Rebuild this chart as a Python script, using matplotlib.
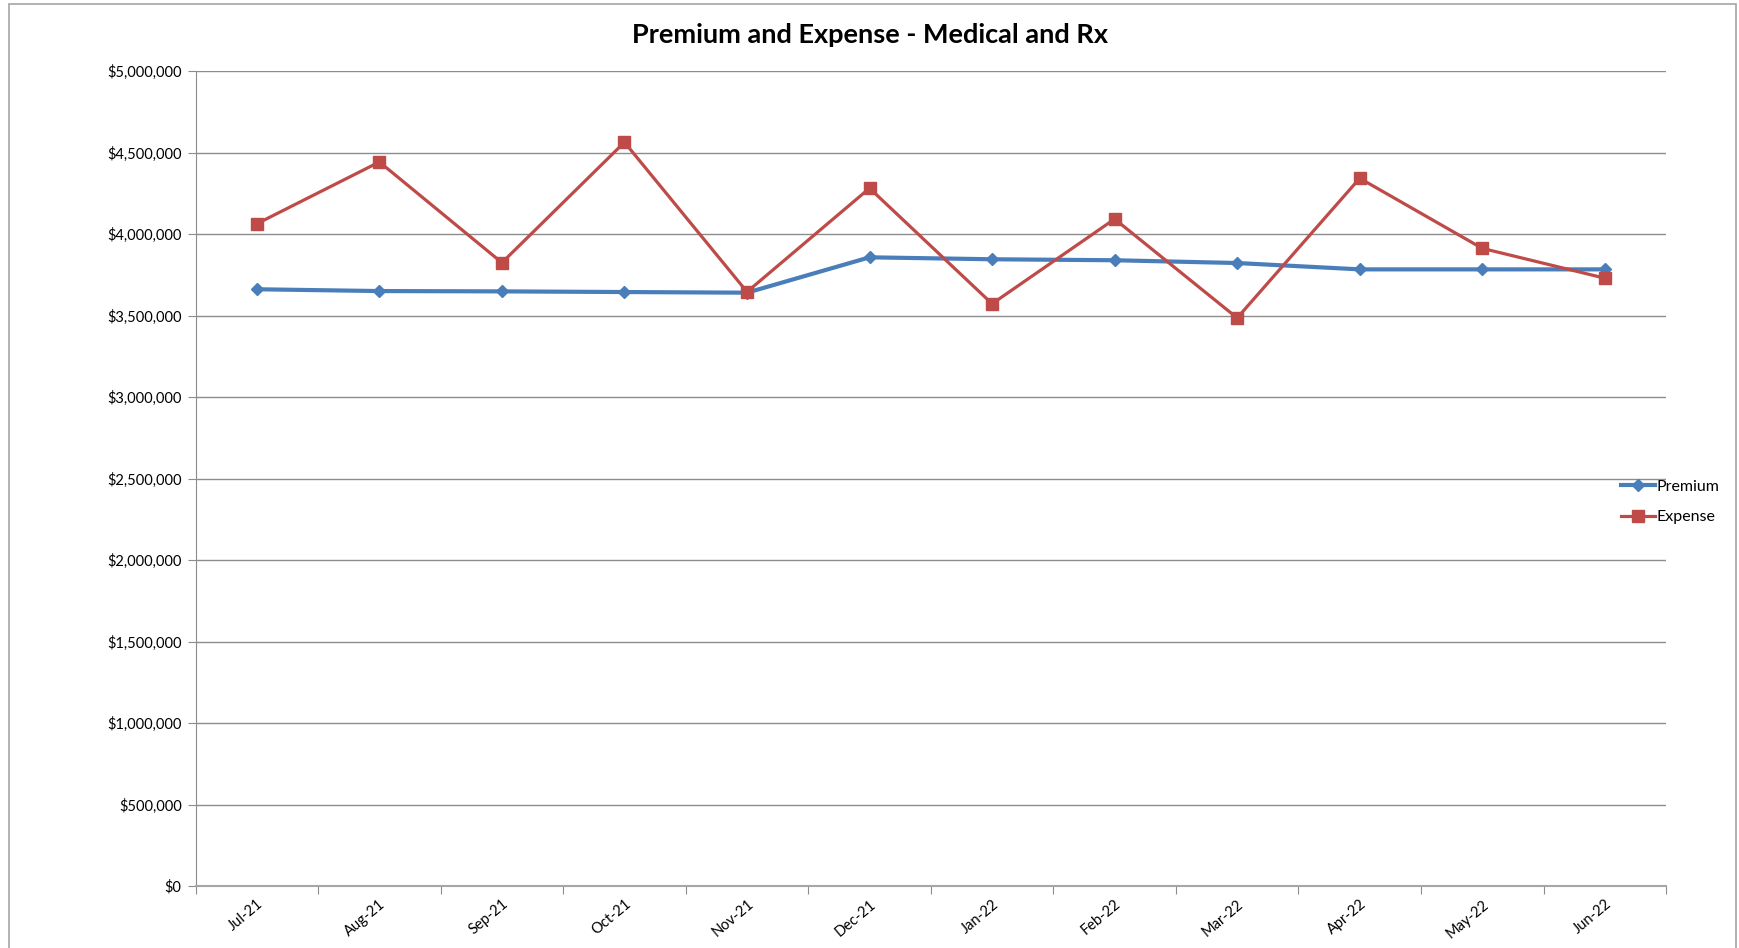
import matplotlib.pyplot as plt
from matplotlib.patches import Rectangle
from matplotlib.ticker import FuncFormatter, MultipleLocator

# Data
months = ["Jul-21", "Aug-21", "Sep-21", "Oct-21", "Nov-21", "Dec-21",
          "Jan-22", "Feb-22", "Mar-22", "Apr-22", "May-22", "Jun-22"]
premium = [3661000, 3650000, 3648000, 3644000, 3640000, 3857000,
           3845000, 3839000, 3822000, 3783000, 3783000, 3783000]
expense = [4063000, 4442000, 3824000, 4563000, 3645000, 4281000,
           3572000, 4092000, 3485000, 4342000, 3912000, 3729000]

plt.rcParams['font.family'] = ['Lato', 'DejaVu Sans']

fig = plt.figure(figsize=(17.4, 9.48), dpi=100)
ax = fig.add_axes([0.1124, 0.0654, 0.8451, 0.8597])

# Outer chart frame (the bottom edge is cut off in the original)
frame = Rectangle((9 / 1740, -0.05), (1736 - 9) / 1740, 1 - 4 / 948 + 0.05,
                  transform=fig.transFigure, facecolor='none',
                  edgecolor='#a6a6a6', linewidth=1.2, zorder=0)
fig.patches.append(frame)

x = list(range(len(months)))
ax.plot(x, premium, color='#4a7ebb', linewidth=3.0, marker='D',
        markersize=6.5, label='Premium', zorder=3)
ax.plot(x, expense, color='#be4b48', linewidth=2.3, marker='s',
        markersize=8.5, label='Expense', zorder=4)

ax.set_xlim(-0.5, len(months) - 0.5)
ax.set_ylim(0, 5000000)
ax.yaxis.set_major_locator(MultipleLocator(500000))
ax.yaxis.set_major_formatter(FuncFormatter(lambda v, p: f"${v:,.0f}"))
ax.grid(axis='y', color='#8c8c8c', linewidth=1.0)
ax.set_axisbelow(True)

# category ticks sit between months, labels at month centres
ax.set_xticks([i - 0.5 for i in range(len(months) + 1)])
ax.set_xticklabels([])
ax.set_xticks(x, minor=True)
ax.set_xticklabels(months, minor=True, rotation=40, ha='right',
                   rotation_mode='anchor', fontsize=10.5)
ax.tick_params(axis='x', which='minor', length=0, pad=8)
ax.tick_params(axis='x', which='major', length=6, color='#8c8c8c')
ax.tick_params(axis='y', length=6, color='#8c8c8c', labelsize=10.5, pad=4)

for side in ['top', 'right']:
    ax.spines[side].set_visible(False)
ax.spines['left'].set_color('#8c8c8c')
ax.spines['bottom'].set_color('#a6a6a6')
ax.spines['bottom'].set_linewidth(1.5)

fig.text(0.5, 1 - 35 / 948, "Premium and Expense - Medical and Rx",
         ha='center', va='center', fontsize=19.5, fontweight='bold')

fig.legend(loc='center left', bbox_to_anchor=(1613 / 1740, 1 - 502 / 948),
           frameon=False, fontsize=11.5, handlelength=2.1, handletextpad=0.1,
           labelspacing=1.0, borderpad=0)

fig.savefig('out.png', dpi=100)
